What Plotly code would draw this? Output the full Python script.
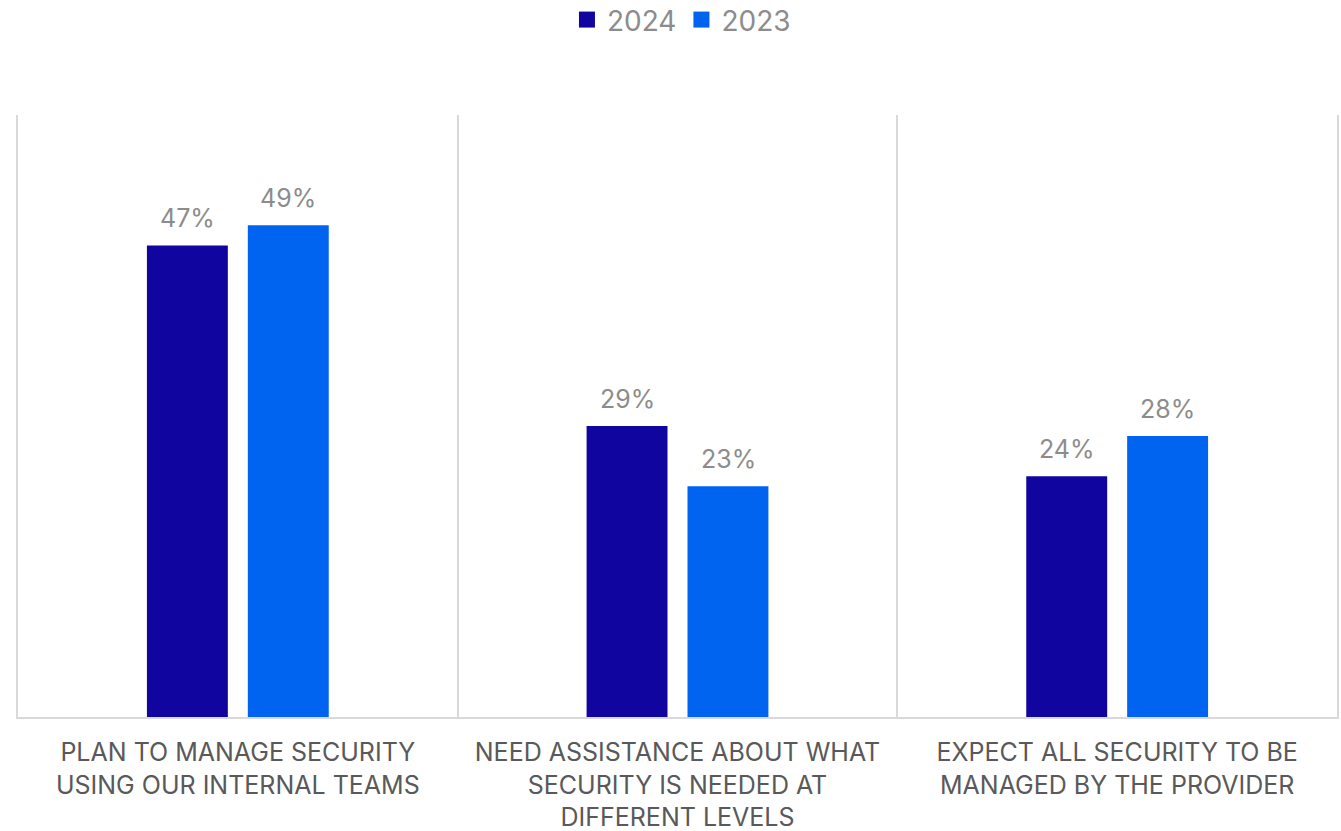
import plotly.graph_objects as go

categories = [
    "PLAN TO MANAGE SECURITY<br>USING OUR INTERNAL TEAMS",
    "NEED ASSISTANCE ABOUT WHAT<br>SECURITY IS NEEDED AT<br>DIFFERENT LEVELS",
    "EXPECT ALL SECURITY TO BE<br>MANAGED BY THE PROVIDER",
]
series_names = ["2024", "2023"]
values_2024 = [0.47, 0.29, 0.24]
values_2023 = [0.49, 0.23, 0.28]
colors = ["#10069F", "#0064F0"]

FONT = "Inter, Roboto, sans-serif"

fig = go.Figure()
for name, vals, col in zip(series_names, [values_2024, values_2023], colors):
    fig.add_trace(go.Bar(x=categories, y=vals, name=name, marker_color=col,
                         marker_line_width=0, showlegend=False))
    # legend proxy with larger square
    fig.add_trace(go.Scatter(x=[None], y=[None], mode="markers", name=name,
                             marker=dict(symbol="square", size=16, color=col)))

# data labels
for vals, shift in zip([values_2024, values_2023], [-50.5, 50.5]):
    for c, v in zip(categories, vals):
        fig.add_annotation(x=c, y=v, text=f"{round(v*100)}%", showarrow=False,
                           xshift=shift, yshift=10, yanchor="bottom",
                           font=dict(family=FONT, size=25, color="#8C8C8C"))

fig.update_layout(
    width=1341, height=831,
    margin=dict(l=18, r=4, t=115, b=114, autoexpand=False),
    paper_bgcolor="white", plot_bgcolor="white",
    barmode="group", bargap=0.541, bargroupgap=0.198,
    font=dict(family=FONT, color="#595959"),
    legend=dict(orientation="h", x=0.503, xanchor="center", y=1.158, yanchor="middle",
                font=dict(family=FONT, size=28, color="#8C8C8C"),
                itemwidth=30, tracegroupgap=0),
    xaxis=dict(type="category", tickson="boundaries", showgrid=True,
               gridcolor="#D9D9D9", gridwidth=2, showline=True, linecolor="#D9D9D9",
               linewidth=2, ticks="", ticklabelstandoff=12,
               tickfont=dict(family=FONT, size=25, color="#595959")),
    yaxis=dict(range=[0, 0.6], showgrid=False, showticklabels=False, zeroline=False,
               showline=True, mirror=True, linecolor="#D9D9D9", linewidth=2, ticks=""),
)

fig.write_html("out.html")
